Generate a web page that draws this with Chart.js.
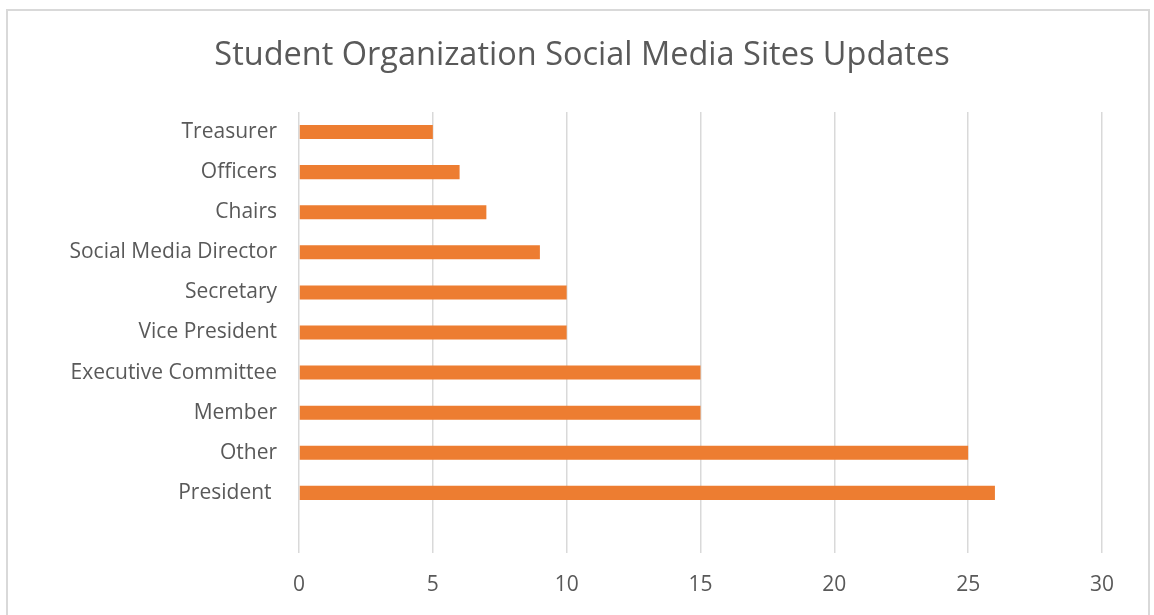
<!DOCTYPE html>
<html>
<head>
<meta charset="utf-8">
<script src="https://cdn.jsdelivr.net/npm/chart.js@4/dist/chart.umd.min.js"></script>
<style>
  html, body { margin: 0; padding: 0; background: #fff; overflow: hidden; }
  #frame { position: absolute; left: 6px; top: 9px; width: 1144px; height: 640px; border: 2px solid #d9d9d9; box-sizing: border-box; }
  #wrap { position: absolute; left: 0; top: 0; width: 1154px; height: 615px; }
</style>
</head>
<body>
<div id="frame"></div>
<div id="wrap"><canvas id="chart"></canvas></div>
<script>
// categories, top to bottom (last one is the blank slot Excel leaves at the bottom)
const roles = [
  "Treasurer", "Officers", "Chairs", "Social Media Director", "Secretary",
  "Vice President", "Executive Committee", "Member", "Other", "President ", ""
];
const updates = [5, 6, 7, 9, 10, 10, 15, 15, 25, 26, null];
const xTicks = [0, 5, 10, 15, 20, 25, 30];

const textColor = "#595959";
const fontFamily = "'Open Sans', 'Noto Sans', sans-serif";

const ctx = document.getElementById("chart").getContext("2d");
new Chart(ctx, {
  type: "bar",
  data: {
    labels: roles,
    datasets: [{
      data: updates,
      backgroundColor: "#ED7D31",
      borderWidth: 0,
      barPercentage: 0.35,
      categoryPercentage: 1.0,
    }],
  },
  options: {
    indexAxis: "y",
    responsive: true,
    maintainAspectRatio: false,
    animation: false,
    layout: { padding: { top: 30, right: 52, bottom: 0, left: 62 } },
    plugins: {
      legend: { display: false },
      tooltip: { enabled: false },
      title: {
        display: true,
        text: "Student Organization Social Media Sites Updates",
        color: textColor,
        font: { family: fontFamily, size: 32.5, weight: "normal" },
        padding: { top: 6, bottom: 37 },
      },
    },
    scales: {
      x: {
        min: xTicks[0],
        max: xTicks[xTicks.length - 1],
        afterBuildTicks: (scale) => { scale.ticks = xTicks.map(v => ({ value: v })); },
        afterFit: (scale) => { scale.height = 62; },
        grid: { color: "#d9d9d9", lineWidth: 1.5, drawTicks: false },
        border: { display: false },
        ticks: { color: textColor, padding: 19, font: { family: fontFamily, size: 21 } },
      },
      y: {
        afterFit: (scale) => { scale.width = 237; },
        grid: { display: false, drawTicks: false },
        border: { display: false },
        ticks: { color: textColor, padding: 22, font: { family: fontFamily, size: 21 } },
      },
    },
  },
});
</script>
</body>
</html>
